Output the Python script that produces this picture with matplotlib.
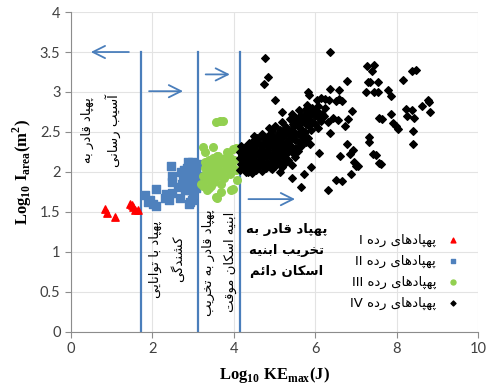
import matplotlib
matplotlib.use("Agg")
import matplotlib.pyplot as plt

plt.rcParams['mathtext.fontset'] = 'custom'
plt.rcParams['mathtext.rm'] = 'Liberation Serif:bold'
plt.rcParams['mathtext.bf'] = 'Liberation Serif:bold'

# contextual forms (isolated, final, initial, medial) for the Persian letters used
FORMS = {
    'ا': ('\uFE8D', '\uFE8E', None, None),
    'آ': ('\uFE81', '\uFE82', None, None),
    'ب': ('\uFE8F', '\uFE90', '\uFE91', '\uFE92'),
    'پ': ('\uFB56', '\uFB57', '\uFB58', '\uFB59'),
    'ت': ('\uFE95', '\uFE96', '\uFE97', '\uFE98'),
    'خ': ('\uFEA5', '\uFEA6', '\uFEA7', '\uFEA8'),
    'د': ('\uFEA9', '\uFEAA', None, None),
    'ر': ('\uFEAD', '\uFEAE', None, None),
    'س': ('\uFEB1', '\uFEB2', '\uFEB3', '\uFEB4'),
    'ش': ('\uFEB5', '\uFEB6', '\uFEB7', '\uFEB8'),
    'ق': ('\uFED5', '\uFED6', '\uFED7', '\uFED8'),
    'ک': ('\uFB8E', '\uFB8F', '\uFB90', '\uFB91'),
    'گ': ('\uFB92', '\uFB93', '\uFB94', '\uFB95'),
    'م': ('\uFEE1', '\uFEE2', '\uFEE3', '\uFEE4'),
    'ن': ('\uFEE5', '\uFEE6', '\uFEE7', '\uFEE8'),
    'ه': ('\uFEE9', '\uFEEA', '\uFEEB', '\uFEEC'),
    'و': ('\uFEED', '\uFEEE', None, None),
    'ی': ('\uFBFC', '\uFBFD', '\uFBFE', '\uFBFF'),
    'ئ': ('\uFE89', '\uFE8A', '\uFE8B', '\uFE8C'),
}


def fa(text):
    # shape and reverse each line so it reads right to left
    lines = []
    for s in text.split('\n'):
        out = []
        for i, c in enumerate(s):
            if c not in FORMS:
                out.append(c)
                continue
            prev = s[i - 1] if i > 0 else None
            nxt = s[i + 1] if i + 1 < len(s) else None
            jp = prev in FORMS and FORMS[prev][2] is not None
            jn = FORMS[c][2] is not None and nxt in FORMS
            iso, fin, ini, med = FORMS[c]
            if jp and jn:
                out.append(med)
            elif jp:
                out.append(fin)
            elif jn:
                out.append(ini)
            else:
                out.append(iso)
        lines.append(''.join(out)[::-1])
    return '\n'.join(lines)


# class I
x1 = [0.83, 0.89, 1.08, 1.45, 1.53, 1.57, 1.65, 1.50]
y1 = [1.54, 1.49, 1.44, 1.60, 1.56, 1.53, 1.52, 1.59]

# class II
x2 = [1.81, 1.94, 2.10, 1.88, 2.02, 2.10, 2.33, 2.32, 2.40, 2.45, 2.47, 2.47, 2.47,
      2.63, 2.67, 2.89, 2.96, 3.00, 2.92, 2.72, 2.75, 2.78, 2.80, 2.83, 2.85, 2.87,
      2.90, 2.92, 2.95, 2.97, 3.00, 3.02, 3.05, 3.07, 3.10, 3.08, 2.93, 2.80, 3.12,
      2.98, 2.88, 3.05, 2.70, 3.10]
y2 = [1.71, 1.65, 1.58, 1.62, 1.60, 1.79, 1.73, 1.68, 1.65, 2.07, 1.88, 1.74, 1.95,
      1.81, 1.68, 1.60, 1.65, 1.73, 1.63, 1.85, 1.95, 2.02, 1.90, 1.82, 2.05, 1.98,
      1.88, 2.10, 1.95, 2.02, 1.85, 2.08, 1.92, 2.00, 2.10, 1.80, 1.78, 1.78, 1.95,
      2.12, 2.12, 2.05, 2.00, 1.86]

# class III
x3 = [3.20, 3.24, 3.25, 3.28, 3.30, 3.32, 3.35, 3.38, 3.40, 3.42, 3.45, 3.48, 3.50,
      3.52, 3.55, 3.58, 3.60, 3.62, 3.65, 3.68, 3.70, 3.72, 3.75, 3.78, 3.80, 3.85,
      3.88, 3.90, 3.95, 4.00, 4.05, 3.57, 3.59, 3.94, 3.97, 3.49, 3.24, 3.98, 4.06,
      3.57, 3.65, 3.73, 3.35, 3.45, 3.68, 4.08, 3.30, 3.82, 3.62, 3.92]
y3 = [1.85, 1.83, 1.95, 2.05, 2.12, 1.90, 2.00, 2.15, 1.80, 2.08, 1.95, 2.18, 2.02,
      1.88, 2.10, 2.20, 1.95, 2.05, 2.15, 1.85, 2.00, 2.12, 1.92, 2.18, 2.05, 2.10,
      2.20, 1.98, 2.08, 2.15, 2.02, 1.69, 1.68, 1.78, 1.79, 2.31, 2.31, 2.29, 2.30,
      2.63, 2.64, 2.64, 1.78, 1.82, 1.75, 1.90, 2.25, 2.25, 2.20, 2.12]

# class IV
x4 = [4.77, 4.85, 4.74, 6.37, 7.27, 7.45, 7.39, 7.29, 7.35, 7.53, 7.25, 7.45, 7.53,
      8.37, 8.46, 8.15, 6.77, 6.35, 6.58, 5.82, 5.84, 5.02, 5.19, 5.69, 6.04, 6.14,
      6.24, 6.33, 6.51, 6.58, 6.66, 6.90, 6.80, 6.74, 6.43, 6.55, 6.37, 7.79, 7.86,
      7.57, 7.64, 7.86, 7.90, 7.97, 8.02, 8.23, 8.37, 8.24, 8.43, 8.62, 8.76, 8.78,
      8.82, 8.41, 8.41, 7.33, 7.33, 7.41, 7.49, 7.56, 7.61, 6.77, 6.92, 6.84, 6.61,
      6.96, 6.99, 7.04, 6.88, 6.51, 6.66, 6.31, 5.64, 6.09, 5.90, 5.71, 5.43, 5.14,
      4.45, 4.49, 5.69, 5.78, 5.87, 4.35, 4.90,
      4.15, 4.17, 4.14, 4.16, 4.18, 4.22, 4.24, 4.21, 4.23,
      4.30, 4.31, 4.29, 4.32, 4.28, 4.38, 4.40, 4.37, 4.39, 4.36,
      4.46, 4.47, 4.45, 4.48, 4.44, 4.54, 4.56, 4.53, 4.55, 4.52, 4.57,
      4.62, 4.63, 4.61, 4.64, 4.60, 4.70, 4.72, 4.69, 4.71, 4.68, 4.73, 4.70,
      4.78, 4.80, 4.77, 4.79, 4.76, 4.81, 4.86, 4.88, 4.85, 4.87, 4.84, 4.89, 4.86,
      4.94, 4.96, 4.93, 4.95, 4.92, 4.97, 4.94, 5.02, 5.04, 5.01, 5.03, 5.00, 5.05, 5.02,
      5.10, 5.12, 5.09, 5.11, 5.08, 5.13, 5.18, 5.20, 5.17, 5.19, 5.16, 5.21, 5.18,
      5.26, 5.28, 5.25, 5.27, 5.24, 5.29, 5.34, 5.36, 5.33, 5.35, 5.32, 5.37,
      5.42, 5.44, 5.41, 5.43, 5.40, 5.45, 5.42, 5.50, 5.52, 5.49, 5.51, 5.48, 5.53,
      5.58, 5.60, 5.57, 5.59, 5.56, 5.61, 5.66, 5.68, 5.65, 5.67, 5.64,
      5.74, 5.76, 5.73, 5.75, 5.82, 5.84, 5.81, 5.83, 5.80, 5.90, 5.92, 5.89, 5.91,
      5.98, 6.00, 5.97, 6.06, 6.08, 6.05, 6.07, 6.14, 6.16, 6.22, 6.24, 6.30]
y4 = [3.43, 3.19, 3.10, 3.50, 3.33, 3.34, 3.26, 3.12, 3.13, 3.13, 3.00, 3.00, 3.00,
      3.26, 3.28, 3.15, 3.14, 3.04, 3.03, 3.00, 2.96, 2.90, 2.75, 2.68, 2.90, 2.92,
      2.91, 2.90, 2.89, 2.91, 2.89, 2.76, 2.66, 2.57, 2.67, 2.65, 2.49, 3.02, 2.95,
      2.68, 2.66, 2.72, 2.61, 2.58, 2.54, 2.79, 2.77, 2.70, 2.67, 2.82, 2.90, 2.88,
      2.75, 2.51, 2.35, 2.44, 2.38, 2.23, 2.21, 2.11, 2.10, 2.35, 2.27, 2.23, 2.20,
      2.13, 2.08, 2.07, 1.98, 1.90, 1.89, 1.78, 1.81, 2.24, 2.06, 1.97, 1.93, 2.00,
      1.99, 2.45, 2.44, 2.38, 2.35, 2.00, 2.05,
      2.02, 2.10, 2.18, 2.25, 2.32, 2.06, 2.14, 2.21, 2.28,
      2.00, 2.09, 2.17, 2.24, 2.31, 2.04, 2.12, 2.20, 2.27, 2.36,
      2.08, 2.15, 2.23, 2.30, 2.38, 2.03, 2.11, 2.19, 2.26, 2.34, 2.42,
      2.07, 2.14, 2.22, 2.29, 2.37, 2.01, 2.10, 2.18, 2.25, 2.33, 2.41, 2.48,
      2.05, 2.13, 2.21, 2.28, 2.36, 2.44, 2.09, 2.17, 2.24, 2.32, 2.40, 2.47, 2.55,
      2.04, 2.12, 2.20, 2.27, 2.35, 2.43, 2.51, 2.08, 2.16, 2.24, 2.31, 2.39, 2.46, 2.58,
      2.13, 2.21, 2.29, 2.37, 2.44, 2.52, 2.06, 2.17, 2.26, 2.34, 2.42, 2.50, 2.62,
      2.11, 2.22, 2.31, 2.39, 2.47, 2.56, 2.15, 2.27, 2.36, 2.45, 2.53, 2.66,
      2.09, 2.24, 2.33, 2.42, 2.51, 2.60, 2.72, 2.19, 2.30, 2.40, 2.49, 2.58, 2.68,
      2.26, 2.38, 2.47, 2.56, 2.64, 2.78, 2.33, 2.45, 2.54, 2.62, 2.71,
      2.50, 2.60, 2.69, 2.77, 2.42, 2.57, 2.66, 2.74, 2.84, 2.53, 2.63, 2.72, 2.80,
      2.60, 2.70, 2.78, 2.55, 2.67, 2.76, 2.82, 2.64, 2.73, 2.70, 2.80, 2.62]

numerals = ['I', 'II', 'III', 'IV']
# Latin numeral goes on the left of right-to-left text
labels = [n + ' ' + fa('پهپادهای رده') for n in numerals]

blue = '#4a7ebb'

fig = plt.figure(figsize=(4.86, 3.89), dpi=100)
ax = fig.add_axes([0.146, 0.147, 0.838, 0.822])

ax.scatter(x1, y1, marker='^', s=28, color='#ff0000', label=labels[0], zorder=3)
ax.scatter(x2, y2, marker='s', s=26, color='#4f81bd', label=labels[1], zorder=3)
ax.scatter(x3, y3, marker='o', s=30, color='#92d050', label=labels[2], zorder=3)
ax.scatter(x4, y4, marker='D', s=15, color='black', label=labels[3], zorder=3)

# zone borders
for xv in [1.73, 3.13, 4.14]:
    ax.plot([xv, xv], [0, 3.5], color=blue, lw=1.6, zorder=2)

# arrows
arrows = [((1.49, 3.5), (0.42, 3.5)), ((1.85, 3.01), (2.82, 3.01)),
          ((3.24, 3.22), (3.97, 3.22)), ((4.29, 1.66), (5.57, 1.66))]
for start, end in arrows:
    ax.annotate('', xy=end, xytext=start,
                arrowprops=dict(arrowstyle='->', color=blue, lw=1.3, mutation_scale=22))

ax.text(0.74, 2.52, fa('پهپاد قادر به\nآسیب رسانی'), rotation=90, ha='center', va='center',
        fontsize=9.5, linespacing=1.9, family='DejaVu Sans')
ax.text(2.36, 0.91, fa('پهپاد با توانایی\nکشندگی'), rotation=90, ha='center', va='center',
        fontsize=9.5, linespacing=1.9, family='DejaVu Sans')
ax.text(3.65, 0.87, fa('پهپاد قادر به تخریب\nابنیه اسکان موقت'), rotation=90, ha='center',
        va='center', fontsize=9.5, linespacing=1.9, family='DejaVu Sans')
ax.text(5.3, 1.02, fa('پهپاد قادر به\nتخریب ابنیه\nاسکان دائم'), ha='center', va='center',
        fontsize=9.5, linespacing=1.8, family='DejaVu Sans', fontweight='bold')

leg = ax.legend(loc='upper right', bbox_to_anchor=(1.0, 0.345), frameon=False,
                markerfirst=False, fontsize=9.5, labelspacing=0.6, handletextpad=0.3,
                scatterpoints=1, markerscale=0.65)

ax.set_xlim(0, 10)
ax.set_ylim(0, 4)
ax.set_xticks([0, 2, 4, 6, 8, 10])
ax.set_yticks([0, 0.5, 1, 1.5, 2, 2.5, 3, 3.5, 4])
ax.set_yticklabels(['0', '0.5', '1', '1.5', '2', '2.5', '3', '3.5', '4'])
ax.grid(True, color='#e3e3e3', lw=0.8, zorder=0)
ax.set_axisbelow(True)
for side in ['top', 'right']:
    ax.spines[side].set_visible(False)
for side in ['left', 'bottom']:
    ax.spines[side].set_color('#8c8c8c')
ax.tick_params(direction='out', length=4, color='#8c8c8c', labelsize=10.5,
               labelcolor='#404040')
for lab in ax.get_xticklabels() + ax.get_yticklabels():
    lab.set_family('Lato')

ax.set_xlabel(r'Log$_{\mathbf{10}}$ KE$_{\mathbf{max}}$(J)', fontsize=12,
              family='Liberation Serif', fontweight='bold', labelpad=6)
ax.set_ylabel(r'Log$_{\mathbf{10}}$ I$_{\mathbf{area}}$(m$^{\mathbf{2}}$)', fontsize=12,
              family='Liberation Serif', fontweight='bold', labelpad=4)

fig.savefig('out.png', dpi=100)
